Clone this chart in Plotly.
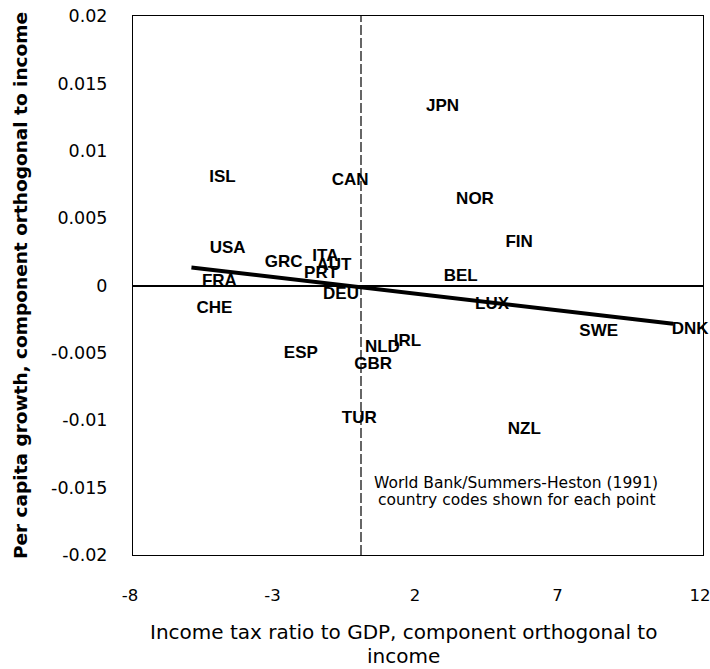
import plotly.graph_objects as go

# Country codes and positions (income tax ratio component, growth component)
countries = ["JPN", "ISL", "CAN", "NOR", "FIN", "USA", "GRC", "ITA", "AUT", "PRT",
             "BEL", "FRA", "DEU", "LUX", "CHE", "SWE", "DNK", "IRL", "NLD", "ESP",
             "GBR", "TUR", "NZL"]
tax_x = [2.86, -4.86, -0.38, 4.0, 5.55, -4.68, -2.71, -1.25, -0.95, -1.4,
         3.5, -4.97, -0.70, 4.60, -5.14, 8.34, 11.55, 1.63, 0.75, -2.11,
         0.43, -0.06, 5.73]
growth_y = [0.0133, 0.0080, 0.00775, 0.00635, 0.0032, 0.00275, 0.0017, 0.0021, 0.0015, 0.0009,
            0.00068, 0.0003, -0.00067, -0.0014, -0.0017, -0.0034, -0.0033, -0.0042, -0.0046, -0.0051,
            -0.0059, -0.0099, -0.0107]

# Fitted regression line endpoints
fit_x = [-5.95, 10.95]
fit_y = [0.00134, -0.00284]

x_ticks = [-8, -3, 2, 7, 12]
y_ticks = [0.02, 0.015, 0.01, 0.005, 0, -0.005, -0.01, -0.015, -0.02]
y_ticktext = ["0.02", "0.015", "0.01", "0.005", "0", "-0.005", "-0.01", "-0.015", "-0.02"]

note_lines = ["World Bank/Summers-Heston (1991)", "country codes shown for each point"]
note_x = 5.44
note_y = [-0.01466, -0.01592]
x_title_lines = ["Income tax ratio to GDP, component orthogonal to", "income"]
y_title = "Per capita growth, component orthogonal to income"

ARIAL = "Liberation Sans, Arial, sans-serif"
WIDE = "DejaVu Sans, Verdana, sans-serif"

fig = go.Figure()
fig.add_trace(go.Scatter(
    x=fit_x, y=fit_y, mode="lines",
    line=dict(color="black", width=4), hoverinfo="skip", showlegend=False))
fig.add_trace(go.Scatter(
    x=tax_x, y=growth_y, mode="text", text=countries, cliponaxis=False,
    textfont=dict(family=ARIAL, size=17, color="black", weight="bold"),
    showlegend=False))

fig.add_vline(x=0, line=dict(color="black", width=1.2, dash="10px,3px"))

for line_text, ly in zip(note_lines, note_y):
    fig.add_annotation(
        x=note_x, y=ly, xref="x", yref="y", showarrow=False,
        text=line_text, align="center",
        font=dict(family=WIDE, size=15.5, color="black"))

for i, line_text in enumerate(x_title_lines):
    fig.add_annotation(
        x=0.474, y=0, xref="paper", yref="paper", xanchor="center", yanchor="middle",
        yshift=-77 - 24 * i, showarrow=False, text=line_text, align="center",
        font=dict(family=WIDE, size=20, color="black"))

fig.update_xaxes(
    range=[-8, 12], tickvals=x_ticks, ticktext=[str(v) for v in x_ticks],
    showgrid=False, zeroline=False, showline=True, linecolor="black", linewidth=1,
    mirror=True, ticks="", ticklabelstandoff=25, ticklabeloverflow="allow",
    ticklabelshift=-3, automargin=False,
    tickfont=dict(family=WIDE, size=16.5, color="black"))
fig.update_yaxes(
    range=[-0.02, 0.02], tickvals=y_ticks, ticktext=y_ticktext,
    showgrid=False, zeroline=True, zerolinecolor="black", zerolinewidth=1.5,
    showline=True, linecolor="black", linewidth=1, mirror=True, ticks="",
    ticklabelstandoff=21, ticklabeloverflow="allow", automargin=False,
    tickfont=dict(family=WIDE, size=17.5, color="black"),
    title=dict(text=y_title,
               font=dict(family=WIDE, size=18.5, color="black", weight="bold"), standoff=18))

fig.update_layout(
    width=710, height=669,
    margin=dict(l=133, r=7, t=16, b=114),
    plot_bgcolor="white", paper_bgcolor="white",
    showlegend=False)

fig.write_html(
    "out.html",
    config={"displayModeBar": False},
    post_script="document.body.style.margin='0';document.body.style.overflow='hidden';")
